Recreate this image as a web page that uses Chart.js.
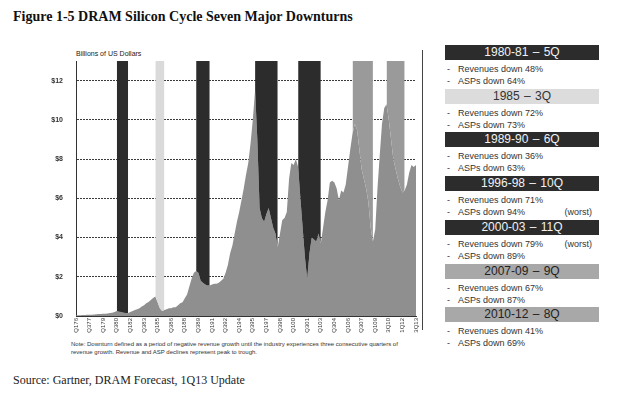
<!DOCTYPE html>
<html>
<head>
<meta charset="utf-8">
<script src="https://cdn.jsdelivr.net/npm/chart.js@4.4.1/dist/chart.umd.min.js"></script>
<style>
  body { margin: 0; width: 621px; height: 396px; background: #fff; position: relative; overflow: hidden; font-family: "Liberation Sans", Arial, sans-serif; }
  #title { position: absolute; left: 13px; top: 9px; font: bold 14px "Liberation Serif", "Times New Roman", serif; color: #111; white-space: nowrap; }
  #unit { position: absolute; left: 76px; top: 50px; font-size: 7px; color: #222; }
  #chartBox { position: absolute; left: 0; top: 0; width: 440px; height: 340px; }
  #frame { position: absolute; left: 422px; top: 50px; width: 1px; height: 280px; background: #444; }
  #note { position: absolute; left: 71px; top: 341px; font-size: 6px; line-height: 7.5px; color: #333; white-space: nowrap; }
  #source { position: absolute; left: 13px; top: 373px; font: 12px "Liberation Serif", "Times New Roman", serif; color: #222; white-space: nowrap; }
  .blk { position: absolute; left: 445px; width: 154px; }
  .hd { height: 15px; line-height: 15px; text-align: center; font-size: 12px; word-spacing: 1px; }
  .ln { height: 12px; line-height: 12px; font-size: 9px; color: #333; position: relative; }
  .ln .d { position: absolute; left: 2px; }
  .ln .t { position: absolute; left: 13px; }
  .ln .w { position: absolute; right: 7px; }
</style>
</head>
<body>
<div id="title">Figure 1-5 DRAM Silicon Cycle Seven Major Downturns</div>
<div id="unit">Billions of US Dollars</div>
<div id="chartBox"><canvas id="myChart" width="440" height="340"></canvas></div>
<div id="frame"></div>
<div id="note">Note: Downturn defined as a period of negative revenue growth until the industry experiences three consecutive quarters of<br>revenue growth. Revenue and ASP declines represent peak to trough.</div>
<div id="source">Source: Gartner, DRAM Forecast, 1Q13 Update</div>
<div id="panel"></div>
<script>
// tick labels, one every 6 quarters from 1Q76 to 3Q13
const tickLabels = ["Q176", "Q377", "Q179", "Q380", "Q182", "Q383", "Q185", "Q386", "Q188", "Q389",
  "Q191", "Q392", "Q194", "Q395", "Q197", "Q398", "Q100", "Q301", "Q103", "Q304",
  "Q106", "Q307", "Q109", "3Q10", "1Q12", "3Q13"];

// quarterly DRAM revenue, billions of US dollars (1Q76 .. 3Q13)
const revenue = [
  0.03, 0.04, 0.04, 0.05,   // 1976
  0.05, 0.06, 0.06, 0.07,   // 1977
  0.08, 0.09, 0.10, 0.10,   // 1978
  0.11, 0.12, 0.13, 0.15,   // 1979
  0.17, 0.20, 0.25, 0.22,   // 1980
  0.20, 0.17, 0.15, 0.15,   // 1981
  0.20, 0.25, 0.30, 0.35,   // 1982
  0.40, 0.48, 0.55, 0.65,   // 1983
  0.72, 0.82, 0.92, 1.00,   // 1984
  0.70, 0.40, 0.25, 0.30,   // 1985
  0.35, 0.40, 0.40, 0.45,   // 1986
  0.45, 0.55, 0.65, 0.70,   // 1987
  0.90, 1.10, 1.50, 1.90,   // 1988
  2.20, 2.30, 2.20, 1.80,   // 1989
  1.70, 1.60, 1.55, 1.55,   // 1990
  1.60, 1.65, 1.65, 1.70,   // 1991
  1.80, 1.90, 2.20, 2.60,   // 1992
  3.20, 3.60, 4.20, 4.80,   // 1993
  5.30, 5.90, 6.50, 7.20,   // 1994
  7.80, 8.80, 10.00, 11.50, // 1995
  9.00, 5.50, 5.00, 4.80,   // 1996
  5.20, 5.50, 5.00, 4.50,   // 1997
  4.20, 3.50, 4.20, 4.90,   // 1998
  5.00, 5.30, 7.00, 7.80,   // 1999
  7.70, 8.00, 7.60, 6.00,   // 2000
  4.50, 3.00, 1.90, 3.20,   // 2001
  4.00, 3.90, 3.80, 4.20,   // 2002
  3.70, 4.50, 5.30, 5.90,   // 2003
  6.80, 6.90, 6.80, 6.50,   // 2004
  5.90, 6.40, 6.30, 6.70,   // 2005
  7.60, 8.50, 9.30, 9.80,   // 2006
  9.50, 8.50, 7.50, 7.00,   // 2007
  6.50, 5.80, 4.50, 3.80,   // 2008
  4.40, 6.50, 8.20, 9.80,   // 2009
  10.60, 10.80, 10.00, 9.00, // 2010
  8.00, 7.50, 7.00, 6.60,   // 2011
  6.30, 6.40, 6.70, 7.30,   // 2012
  7.70, 7.60, 7.70          // 2013
];

// downturns: first and last quarter index (0 = 1Q76)
const downStart = [18, 35, 53, 79, 98, 122, 137];
const downEnd = [23, 39, 59, 89, 108, 131, 145];
const downName = ["1980-81 \u2013 5Q", "1985 \u2013 3Q", "1989-90 \u2013 6Q", "1996-98 \u2013 10Q", "2000-03 \u2013 11Q", "2007-09 \u2013 9Q", "2010-12 \u2013 8Q"];
const revDown = [48, 72, 36, 71, 79, 67, 41];
const aspDown = [64, 73, 63, 94, 89, 87, 69];
const worstRev = [false, false, false, false, true, false, false];
const worstAsp = [false, false, false, true, false, false, false];
const shade = ["dark", "light", "dark", "dark", "dark", "mid", "mid"];

const shadeColor = { dark: "#2c2c2c", light: "#dadada", mid: "#9a9a9a" };
const headColor = { dark: "#2c2c2c", light: "#dcdcdc", mid: "#a8a8a8" };
const headText = { dark: "#f2f2f2", light: "#333", mid: "#222" };

const labels = revenue.map(function (v, i) { return i % 6 === 0 ? tickLabels[i / 6] : ""; });

var datasets = [];
for (var k = 0; k < downStart.length; k++) {
  var d = revenue.map(function (v, i) { return (i >= downStart[k] && i <= downEnd[k]) ? v : null; });
  datasets.push({
    data: d,
    fill: "end",
    backgroundColor: shadeColor[shade[k]],
    borderWidth: 0,
    pointRadius: 0,
    spanGaps: false
  });
}
datasets.push({
  data: revenue,
  fill: "origin",
  backgroundColor: "#8f8f8f",
  borderWidth: 0,
  pointRadius: 0
});

var ctx = document.getElementById("myChart").getContext("2d");
var myChart = new Chart(ctx, {
  type: "line",
  data: { labels: labels, datasets: datasets },
  options: {
    responsive: false,
    animation: false,
    events: [],
    elements: { line: { tension: 0 } },
    layout: { padding: { left: 0, top: 61, right: 24, bottom: 0 } },
    plugins: { legend: { display: false }, tooltip: { enabled: false } },
    scales: {
      x: {
        grid: { display: false, drawTicks: false },
        border: { display: true, color: "#333", width: 1 },
        ticks: {
          autoSkip: false, minRotation: 90, maxRotation: 90, padding: 2,
          color: "#333", font: { family: "Liberation Sans, Arial", size: 6 }
        },
        afterFit: function (scale) { scale.height = 24; }
      },
      y: {
        min: 0, max: 13,
        grid: {
          drawTicks: false,
          color: function (c) { return c.tick && c.tick.value === 0 ? "rgba(0,0,0,0)" : "#3a3a3a"; },
          lineWidth: 1
        },
        border: { display: true, color: "#333", width: 1, dash: [2, 1] },
        ticks: {
          stepSize: 2, includeBounds: false, padding: 13,
          color: "#333", font: { family: "Liberation Sans, Arial", size: 7, weight: "bold" },
          callback: function (v) { return "$" + v; }
        },
        afterFit: function (scale) { scale.width = 76; }
      }
    }
  }
});

// side panel
var panel = document.getElementById("panel");
for (var k = 0; k < downName.length; k++) {
  var b = document.createElement("div");
  b.className = "blk";
  b.style.top = (45 + k * 43.7) + "px";
  var hd = '<div class="hd" style="background:' + headColor[shade[k]] + ';color:' + headText[shade[k]] + '">' + downName[k] + '</div>';
  var l1 = '<div class="ln"><span class="d">-</span><span class="t">Revenues down ' + revDown[k] + '%</span>' + (worstRev[k] ? '<span class="w">(worst)</span>' : '') + '</div>';
  var l2 = '<div class="ln"><span class="d">-</span><span class="t">ASPs down ' + aspDown[k] + '%</span>' + (worstAsp[k] ? '<span class="w">(worst)</span>' : '') + '</div>';
  b.innerHTML = hd + '<div style="height:3px"></div>' + l1 + l2;
  panel.appendChild(b);
}
</script>
</body>
</html>
